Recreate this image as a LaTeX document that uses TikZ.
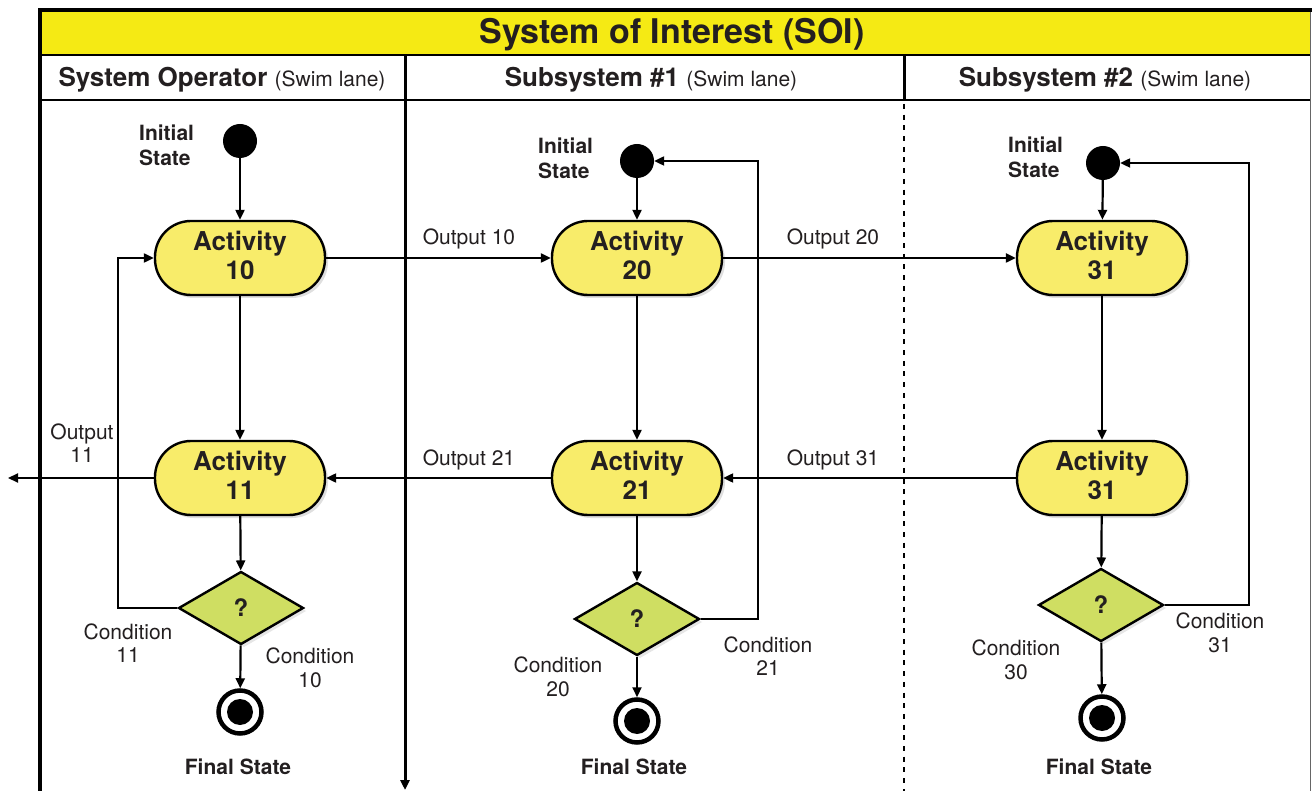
\documentclass[tikz,border=0pt]{standalone}
\usepackage{fontspec}
\setmainfont{TeX Gyre Heros}
\usepackage{tikz}
\usetikzlibrary{shapes.geometric, arrows.meta, positioning, shadows}
\definecolor{banner}{HTML}{F5EA14}
\definecolor{actfill}{HTML}{F8EC6A}
\definecolor{decfill}{HTML}{CFDE62}
\definecolor{ink}{HTML}{231F20}

\begin{document}
\begin{tikzpicture}[
  x=1pt, y=-1pt,
  activity/.style={rectangle, draw=black, fill=actfill, line width=2.4pt, rounded corners=36pt,
    minimum width=170pt, minimum height=74pt, align=center, text=ink, text depth=5pt,
    font=\fontsize{26}{29}\selectfont\bfseries,
    drop shadow={opacity=0.25, shadow xshift=3pt, shadow yshift=-3pt}},
  decision/.style={diamond, draw=black, fill=decfill, line width=2.4pt, inner sep=0pt,
    minimum width=125pt, minimum height=73pt, text=ink, font=\fontsize{24}{26}\selectfont\bfseries,
    drop shadow={opacity=0.2, shadow xshift=3pt, shadow yshift=-3pt}},
  initial/.style={circle, fill=black, inner sep=0pt, minimum size=34pt},
  final/.style={circle, draw=black, line width=4.5pt, fill=white, inner sep=0pt, minimum size=43pt,
    path picture={\fill[black] (path picture bounding box.center) circle (13pt);}},
  statelabel/.style={align=left, anchor=west, inner sep=0pt, text=ink, font=\fontsize{21}{25}\selectfont\bfseries},
  flowlabel/.style={align=center, inner sep=0pt, text=ink, font=\fontsize{21}{23.5}\selectfont},
  lanehead/.style={inner sep=0pt, text=ink, font=\fontsize{26}{30}\selectfont\bfseries},
  arrow/.style={-{Triangle[length=10pt,width=9pt]}, line width=2.2pt},
  lane/.style={line width=3pt}
]
  \useasboundingbox (0,0) rectangle (1312,791);

  % frame, banner and lane headers
  \fill[banner] (40,10) rectangle (1310,55);
  \draw[black!60, line width=0.8pt] (1310,10) -- (1310,791);
  \draw[line width=2pt] (40,55) -- (1310,55);
  \draw[line width=2pt] (40,100) -- (1310,100);
  \draw[line width=3.6pt] (40,791) -- (40,10) -- (1312,10);
  \draw[lane, -{Triangle[length=10pt,width=9pt]}] (405,55) -- (405,790);
  \draw[lane] (904,55) -- (904,100);
  \draw[line width=2.6pt, dash pattern=on 5pt off 5.7pt] (904,104) -- (904,791);

  \node[text=ink, font=\fontsize{34}{38}\selectfont\bfseries] (soi) at (672,35) {System of Interest (SOI)};
  \node[lanehead] (operator) at (222,80) {System Operator {\mdseries\fontsize{21}{24}\selectfont (Swim lane)}};
  \node[lanehead] (sub1) at (651,80) {Subsystem \#1 {\mdseries\fontsize{21}{24}\selectfont (Swim lane)}};
  \node[lanehead] (sub2) at (1105,80) {Subsystem \#2 {\mdseries\fontsize{21}{24}\selectfont (Swim lane)}};

  % system operator lane
  \node[initial] (init1) at (240,141) {};
  \node[statelabel] (init1lbl) at (139,145) {Initial\\State};
  \node[activity] (act10) at (240,258) {Activity\\10};
  \node[activity] (act11) at (240,478) {Activity\\11};
  \node[decision] (dec1) at (241,608) {?};
  \node[final] (final1) at (240,712) {};
  \node[statelabel, anchor=center] (final1lbl) at (238,767) {Final State};

  % subsystem 1 lane
  \node[initial] (init2) at (637,161) {};
  \node[statelabel] (init2lbl) at (538,158) {Initial\\State};
  \node[activity] (act20) at (637,258) {Activity\\20};
  \node[activity] (act21) at (637,478) {Activity\\21};
  \node[decision] (dec2) at (637,619) {?};
  \node[final] (final2) at (637,721) {};
  \node[statelabel, anchor=center] (final2lbl) at (634,767) {Final State};

  % subsystem 2 lane
  \node[initial] (init3) at (1103,163) {};
  \node[statelabel] (init3lbl) at (1008,157) {Initial\\State};
  \node[activity] (act31a) at (1102,258) {Activity\\31};
  \node[activity] (act31b) at (1102,478) {Activity\\31};
  \node[decision] (dec3) at (1101,605) {?};
  \node[final] (final3) at (1102,718) {};
  \node[statelabel, anchor=center] (final3lbl) at (1099,767) {Final State};

  \coordinate (out11) at (8,478);

  % flows inside the lanes
  \draw[arrow] (init1) -- (act10);
  \draw[arrow] (act10) -- (act11);
  \draw[arrow] (act11) -- (dec1);
  \draw[arrow] (dec1) -- (final1);
  \draw[arrow] (dec1.west) -- ++(-59,0) |- (act10.west);

  \draw[arrow] (init2) -- (act20);
  \draw[arrow] (act20) -- (act21);
  \draw[arrow] (act21) -- (dec2);
  \draw[arrow] (dec2) -- (final2);
  \draw[arrow] (dec2.east) -- ++(57,0) |- (init2.east);

  \draw[arrow] (init3) -- (act31a);
  \draw[arrow] (act31a) -- (act31b);
  \draw[arrow] (act31b) -- (dec3);
  \draw[arrow] (dec3) -- (final3);
  \draw[arrow] (dec3.east) -- ++(84,0) |- (init3.east);

  % flows across the lanes
  \draw[arrow] (act10) -- (act20);
  \draw[arrow] (act20) -- (act31a);
  \draw[arrow] (act31b) -- (act21);
  \draw[arrow] (act21) -- (act11);
  \draw[arrow] (act11) -- (out11);

  \node[flowlabel] (o10) at (469,239) {Output 10};
  \node[flowlabel] (o20) at (833,239) {Output 20};
  \node[flowlabel] (o21) at (469,460) {Output 21};
  \node[flowlabel] (o31) at (833,460) {Output 31};
  \node[flowlabel] (o11) at (82,443) {Output\\11};
  \node[flowlabel] (c11) at (128,643) {Condition\\11};
  \node[flowlabel] (c10) at (310,668) {Condition\\10};
  \node[flowlabel] (c20) at (558,677) {Condition\\20};
  \node[flowlabel] (c21) at (768,656) {Condition\\21};
  \node[flowlabel] (c30) at (1016,660) {Condition\\30};
  \node[flowlabel] (c31) at (1220,633) {Condition\\31};
\end{tikzpicture}
\end{document}
